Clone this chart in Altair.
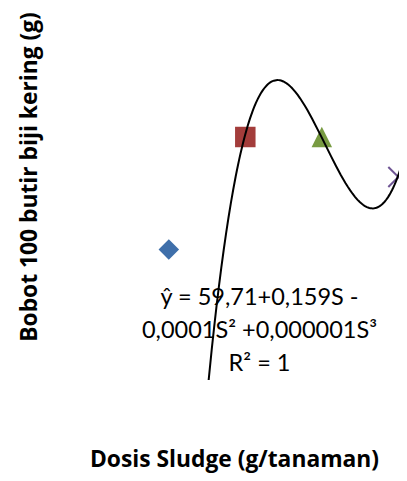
import altair as alt
import pandas as pd

# Observed points (dose in g/tanaman, weight in g)
dose = [0, 100, 200, 300]
bobot = [12.61, 14.86, 14.86, 14.06]
series = ["A", "B", "C", "D"]

trend_dose = [52.2, 98.3, 142.7, 199.0, 267.2, 299.6]
trend_bobot = [10.01, 14.86, 15.97, 14.86, 13.47, 14.06]

eq_lines = ["ŷ = 59,71+0,159S -", "0,0001S² +0,000001S³", "R² = 1"]

pts = pd.DataFrame({"dose": dose, "bobot": bobot, "s": series})
trend = pd.DataFrame({"dose": trend_dose, "bobot": trend_bobot})
eq = pd.DataFrame({"t": ["\n".join(eq_lines)]})

TFONT = "Open Sans"
FONT = "Lato"
xs = alt.Scale(domain=[-142.2, 300.9], nice=False, zero=False)
ys = alt.Scale(domain=[10, 17.44], nice=False, zero=False)

xaxis = alt.Axis(labels=False, ticks=False, domain=False, grid=False,
                 title="Dosis Sludge (g/tanaman)", titleFont=TFONT, titleFontSize=22.8,
                 titleFontWeight="bold", titleColor="#000000", titleX=174, titleY=86.5,
                 titleBaseline="alphabetic", titleAlign="center")
yaxis = alt.Axis(labels=False, ticks=False, domain=False, grid=False,
                 title="Bobot 100  butir biji kering (g)", titleFont=TFONT, titleFontSize=22.8,
                 titleFontWeight="bold", titleColor="#000000", titleX=-24, titleY=168.5,
                 titleBaseline="alphabetic", titleAlign="center", titleAngle=270)

base = alt.Chart(pts)

shapes = ["diamond", "square", "M0,-1L1,1L-1,1Z", "M-1,-1L1,1M1,-1L-1,1"]
colors = ["#3F6FAA", "#A33D3B", "#789B42", "#6F5594"]

filled = base.transform_filter(alt.datum.s != "D").mark_point(filled=True, opacity=1, size=420).encode(
    x=alt.X("dose:Q", scale=xs, axis=xaxis),
    y=alt.Y("bobot:Q", scale=ys, axis=yaxis),
    shape=alt.Shape("s:N", scale=alt.Scale(domain=series, range=shapes), legend=None),
    color=alt.Color("s:N", scale=alt.Scale(domain=series, range=colors), legend=None),
)
cross = base.transform_filter(alt.datum.s == "D").mark_point(filled=False, opacity=1, size=400, strokeWidth=2).encode(
    x=alt.X("dose:Q", scale=xs),
    y=alt.Y("bobot:Q", scale=ys),
    shape=alt.Shape("s:N", scale=alt.Scale(domain=series, range=shapes), legend=None),
    color=alt.Color("s:N", scale=alt.Scale(domain=series, range=colors), legend=None),
)

curve = alt.Chart(trend).transform_regression(
    "dose", "bobot", method="poly", order=3, extent=[0, 312]
).mark_line(color="#000000", strokeWidth=2, clip=True).encode(
    x=alt.X("dose:Q", scale=xs),
    y=alt.Y("bobot:Q", scale=ys),
)

text = alt.Chart(eq).mark_text(font=FONT, fontSize=23.5, color="#000000", align="center",
                               baseline="alphabetic", lineBreak="\n", lineHeight=33).encode(
    x=alt.value(199.5), y=alt.value(297), text="t:N"
)

chart = alt.layer(filled, cross, curve, text).properties(
    width=339, height=372,
    autosize=alt.AutoSizeParams(type="none"),
    padding={"left": 52, "top": 0, "right": 0, "bottom": 93},
    background="white",
).configure_view(stroke=None)

chart.save("out.html", embed_options={"renderer": "svg", "actions": False})
